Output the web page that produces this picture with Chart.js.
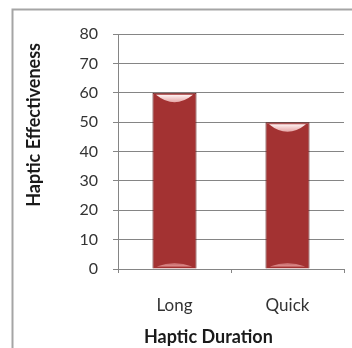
<!DOCTYPE html>
<html>
<head>
<meta charset="utf-8">
<script src="https://cdn.jsdelivr.net/npm/chart.js@4"></script>
<style>
  body { margin: 0; background: #fff; }
  #wrap { width: 352px; height: 348px; }
</style>
</head>
<body>
<div id="wrap"><canvas id="c" width="352" height="348"></canvas></div>
<script>
const categories = ["Long", "Quick"];
const effectiveness = [60, 50];
const yTitle = "Haptic Effectiveness";
const xTitle = "Haptic Duration";

// the outer frame of the excel chart, cut off at right and bottom
const framePlugin = {
  id: "frame",
  beforeDraw(chart) {
    const ctx = chart.ctx;
    ctx.save();
    ctx.strokeStyle = "#a5a5a5";
    ctx.lineWidth = 2;
    ctx.beginPath();
    ctx.moveTo(12.5, chart.height);
    ctx.lineTo(12.5, 9.5);
    ctx.lineTo(chart.width, 9.5);
    ctx.stroke();
    ctx.restore();
  }
};

// excel puts the axis titles a bit off the middle of the plot area
const axisTitlePlugin = {
  id: "axisTitles",
  afterDraw(chart) {
    const ctx = chart.ctx, a = chart.chartArea;
    ctx.save();
    ctx.fillStyle = "#1a1a1a";
    ctx.font = "bold 18px Lato";
    ctx.textAlign = "center";
    ctx.textBaseline = "middle";
    ctx.fillText(xTitle, a.left + a.width * 0.4, 337);
    ctx.translate(34, a.top + a.height * 0.387);
    ctx.rotate(-Math.PI / 2);
    ctx.fillText(yTitle, 0, 0);
    ctx.restore();
  }
};

// shiny cylinder look: highlight at top and a pale band at the base
const shinePlugin = {
  id: "shine",
  afterDatasetsDraw(chart) {
    const ctx = chart.ctx;
    chart.getDatasetMeta(0).data.forEach(bar => {
      const w = bar.width, left = bar.x - w / 2, top = bar.y, base = bar.base;
      ctx.save();
      // top highlight
      let g = ctx.createLinearGradient(0, top + 2, 0, top + 10);
      g.addColorStop(0, "rgba(255,245,245,1)");
      g.addColorStop(1, "rgba(255,210,210,0.7)");
      ctx.fillStyle = g;
      ctx.beginPath();
      ctx.moveTo(left + w * 0.08, top + 2);
      ctx.lineTo(left + w * 0.92, top + 2);
      ctx.quadraticCurveTo(bar.x, top + 17, left + w * 0.08, top + 2);
      ctx.fill();
      // base band
      g = ctx.createLinearGradient(0, base - 8, 0, base - 2);
      g.addColorStop(0, "rgba(230,150,150,0.2)");
      g.addColorStop(1, "rgba(235,165,165,0.85)");
      ctx.fillStyle = g;
      ctx.beginPath();
      ctx.moveTo(left + w * 0.1, base - 2);
      ctx.quadraticCurveTo(bar.x, base - 9, left + w * 0.9, base - 2);
      ctx.closePath();
      ctx.fill();
      ctx.restore();
    });
  }
};

function barFill(context) {
  const bar = context.element;
  const ctx = context.chart.ctx;
  if (!bar || !bar.width) return "#a33232";
  const l = bar.x - bar.width / 2, r = bar.x + bar.width / 2;
  const g = ctx.createLinearGradient(l, 0, r, 0);
  g.addColorStop(0, "#9b2a2a");
  g.addColorStop(0.25, "#ba4444");
  g.addColorStop(0.55, "#a93333");
  g.addColorStop(0.85, "#861f1f");
  g.addColorStop(1, "#5e1212");
  return g;
}

new Chart(document.getElementById("c"), {
  type: "bar",
  data: {
    labels: categories,
    datasets: [{
      data: effectiveness,
      backgroundColor: barFill,
      borderColor: "#5a1414",
      borderWidth: 1,
      categoryPercentage: 0.78,
      barPercentage: 0.5
    }]
  },
  plugins: [framePlugin, shinePlugin, axisTitlePlugin],
  options: {
    responsive: false,
    animation: false,
    layout: { padding: { top: 34, right: 8, left: 0, bottom: 0 } },
    plugins: { legend: { display: false }, tooltip: { enabled: false } },
    scales: {
      y: {
        min: 0, max: 80,
        afterFit(s) { s.width = 118; },
        ticks: { stepSize: 10, padding: 15, color: "#333333", font: { family: "Lato", size: 16 } },
        grid: { color: "#858585", tickLength: 5, lineWidth: 1 },
        border: { color: "#858585" }
      },
      x: {
        afterFit(s) { s.height = 79; },
        ticks: { padding: 22, color: "#333333", font: { family: "Lato", size: 17 } },
        grid: { drawOnChartArea: false, tickLength: 4, color: "#858585" },
        border: { color: "#858585" }
      }
    }
  }
});
</script>
</body>
</html>
